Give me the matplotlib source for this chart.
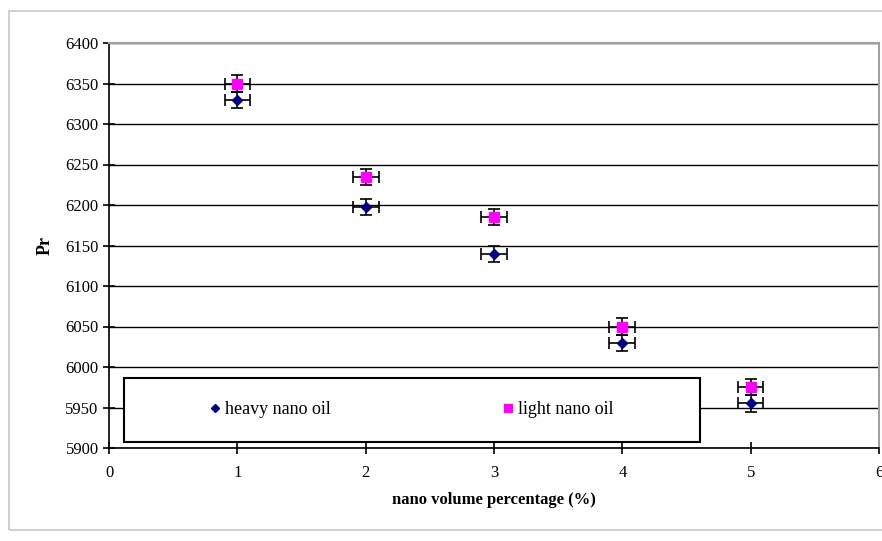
import matplotlib
matplotlib.use("Agg")
import matplotlib.pyplot as plt
from matplotlib.patches import Rectangle
from matplotlib.lines import Line2D

# data
vol_pct = [1, 2, 3, 4, 5]
pr_heavy = [6330, 6198, 6140, 6030, 5955]
pr_light = [6350, 6235, 6185, 6050, 5975]
y_err = 10
x_err = 0.1

plt.rcParams['font.family'] = ['Liberation Serif', 'DejaVu Serif']

fig = plt.figure(figsize=(8.82, 5.41), dpi=100)
ax = fig.add_axes([109 / 882, 1 - 448 / 541, 770 / 882, 405 / 541])

# outer light grey frame
fig.patches.append(Rectangle((9 / 882, 1 - 530 / 541), 1.0, 519 / 541,
                             transform=fig.transFigure, fill=False,
                             edgecolor='#c8c8c8', linewidth=1.2))

for yv in range(5900, 6401, 50):
    ax.axhline(yv, color='black', linewidth=1.0, zorder=1)

ax.errorbar(vol_pct, pr_heavy, yerr=y_err, xerr=x_err, fmt='D', color='#000080',
            ecolor='black', elinewidth=1.2, capsize=4, capthick=1.2, markersize=5,
            label='heavy nano oil', zorder=3)
ax.errorbar(vol_pct, pr_light, yerr=y_err, xerr=x_err, fmt='s', color='#ff00ff',
            ecolor='black', elinewidth=1.2, capsize=4, capthick=1.2, markersize=7,
            label='light nano oil', zorder=4)

ax.set_xlim(0, 6)
ax.set_ylim(5900, 6400)
ax.set_xticks(range(0, 7))
ax.set_yticks(range(5900, 6401, 50))
ax.tick_params(direction='inout', length=8, width=1.2, labelsize=12)
ax.tick_params(axis='x', pad=8)
ax.spines['left'].set_linewidth(1.2)
ax.spines['bottom'].set_linewidth(1.2)
ax.spines['top'].set_color('#a0a0a0')
ax.spines['right'].set_color('#a0a0a0')
ax.spines['top'].set_linewidth(1.5)
ax.spines['right'].set_linewidth(1.5)

ax.set_xlabel('nano volume percentage (%)', fontsize=12, fontweight='bold', labelpad=8)
ax.set_ylabel('Pr', fontsize=13, fontweight='bold', labelpad=8)

# legend box inside the axes
box = (15 / 770, 6 / 405, 576 / 770, 64 / 405)
ax.add_patch(Rectangle(box[:2], box[2], box[3], transform=ax.transAxes,
                       facecolor='white', edgecolor='black', linewidth=1.5, zorder=5))
handles = [Line2D([], [], marker='D', color='#000080', linestyle='none', markersize=4),
           Line2D([], [], marker='s', color='#ff00ff', linestyle='none', markersize=6)]
leg = ax.legend(handles, ['heavy nano oil', 'light nano oil'], ncol=2,
                loc='center', bbox_to_anchor=box, fontsize=13, frameon=False,
                borderaxespad=0, handlelength=0.5, handletextpad=0.3,
                columnspacing=9.6)
leg.set_zorder(6)

fig.savefig('out.png', dpi=100)
